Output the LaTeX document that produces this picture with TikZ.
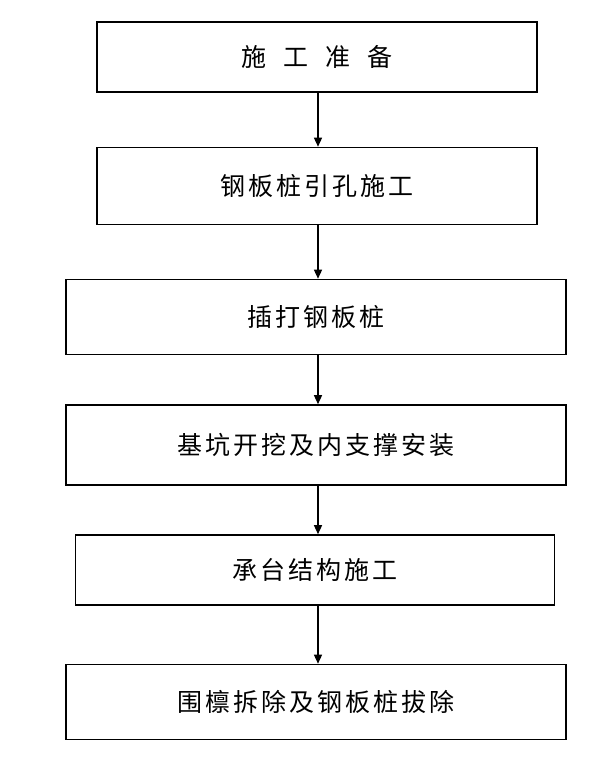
\documentclass[tikz,border=0pt]{standalone}
\usepackage{fontspec}
\newfontfamily\cjk[LetterSpace=12]{Noto Sans CJK SC}
\usetikzlibrary{arrows.meta}
\tikzset{
    stage/.style={draw, line width=1.6pt, font=\cjk\fontsize{25}{30}\selectfont, inner sep=0pt},
    flow/.style={line width=1.4pt, -{Triangle[length=9pt, width=8pt]}}
}
\begin{document}
\begin{tikzpicture}[x=1pt, y=-1pt]
    \useasboundingbox (0, 0) rectangle (615, 776);
    \node[stage, minimum width=440pt, minimum height=70pt] (prep) at (317, 57) {施\ \ 工\ \ 准\ \ 备};
    \node[stage, minimum width=440pt, minimum height=77pt] (hole) at (317, 186) {钢板桩引孔施工};
    \node[stage, minimum width=500pt, minimum height=75pt] (drive) at (316, 317) {插打钢板桩};
    \node[stage, minimum width=500pt, minimum height=80pt] (dig) at (316, 445) {基坑开挖及内支撑安装};
    \node[stage, minimum width=479pt, minimum height=70pt] (cap) at (315, 570) {承台结构施工};
    \node[stage, minimum width=500pt, minimum height=75pt] (pull) at (316, 702) {围檩拆除及钢板桩拔除};
    \draw[flow] (prep.south -| 318, 0) -- (hole.north -| 318, 0);
    \draw[flow] (hole.south -| 318, 0) -- (drive.north -| 318, 0);
    \draw[flow] (drive.south -| 318, 0) -- (dig.north -| 318, 0);
    \draw[flow] (dig.south -| 318, 0) -- (cap.north -| 318, 0);
    \draw[flow] (cap.south -| 318, 0) -- (pull.north -| 318, 0);
\end{tikzpicture}
\end{document}
